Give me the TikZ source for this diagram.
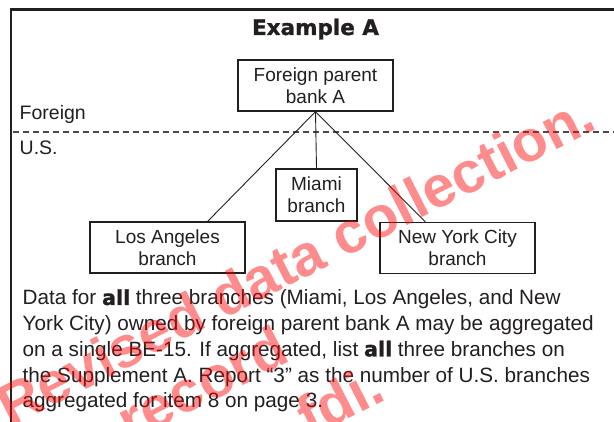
\documentclass[tikz,border=0pt]{standalone}
\usepackage{fontspec}
\setmainfont{Liberation Sans}
\newfontfamily\heavyfont{DejaVu Sans Bold}[FakeBold=1.2]
\newfontfamily\wmfont{Liberation Sans Bold}
\usetikzlibrary{calc}
\definecolor{ink}{HTML}{231F20}
\definecolor{dashgray}{HTML}{4A4A4A}
\begin{document}
\begin{tikzpicture}[x=1pt,y=-1pt,
  box/.style={draw=ink, line width=1.3pt, text=ink, align=center,
    font=\fontsize{19}{22}\selectfont, inner sep=0pt, minimum height=51pt},
  link/.style={draw=ink, line width=0.9pt},
  frameline/.style={draw=ink, line width=2.5pt},
  dashline/.style={draw=dashgray, line width=1.3pt, dash pattern=on 6pt off 4pt},
  bodyline/.style={anchor=base west, inner sep=0pt, text=ink,
    font=\fontsize{20.7}{25.75}\selectfont},
  lbl/.style={anchor=base west, inner sep=0pt, text=ink,
    font=\fontsize{19.5}{22}\selectfont},
  titlestyle/.style={anchor=base, inner sep=0pt, text=ink,
    font=\heavyfont\fontsize{21.5}{24}\selectfont},
  wm/.style={anchor=base east, inner sep=0pt, rotate=27, text=red,
    text opacity=0.45, font=\wmfont\fontsize{58}{60}\selectfont}]
\useasboundingbox (0,0) rectangle (614,422);
\fill[white] (0,0) rectangle (614,422);
\clip (0,0) rectangle (614,422);
% frame
\draw[frameline] (11.2,430) -- (11.2,9.5) -- (620,9.5);
% title
\node[titlestyle] (title) at (315.5,35) {Example A};
% boxes
\node[box, minimum width=155pt] (parent) at (315.5,85.5) {Foreign parent\\bank A};
\node[box, minimum width=81pt, minimum height=52pt] (miami) at (316.5,195) {Miami\\branch};
\node[box, minimum width=155pt] (la) at (167.5,247.5) {Los Angeles\\branch};
\node[box, minimum width=155pt] (nyc) at (457.5,248) {New York City\\branch};
% labels and separator
\node[lbl] (foreign) at (19.5,120) {Foreign};
\draw[dashline] (12.5,132) -- (620,132);
\node[lbl] (us) at (19.5,155) {U.S.};
% connectors
\draw[link] (parent.south) -- (miami.north);
\draw[link] (parent.south) -- ($(la.north east)+(-38,0)$);
\draw[link] (parent.south) -- ($(nyc.north west)+(46,0)$);
% body text
\node[bodyline] (b1) at (22.5,305) {Data for {\heavyfont all} three branches (Miami, Los Angeles, and New};
\node[bodyline] (b2) at (22.5,330.7) {York City) owned by foreign parent bank A may be aggregated};
\node[bodyline] (b3) at (22.5,356.4) {on a single BE-15. If aggregated, list {\heavyfont all} three branches on};
\node[bodyline] (b4) at (22.5,382.1) {the Supplement A. Report “3” as the number of U.S. branches};
\node[bodyline] (b5) at (22.5,407.8) {aggregated for item 8 on page 3.};
% watermark
\node[wm] (wm1) at (599.5,127.7) {Revised data collection.};
\node[wm] (wm2) at (291.8,360.8) {record};
\node[wm] (wm3) at (388.4,398.7) {fdi.};
\end{tikzpicture}
\end{document}
